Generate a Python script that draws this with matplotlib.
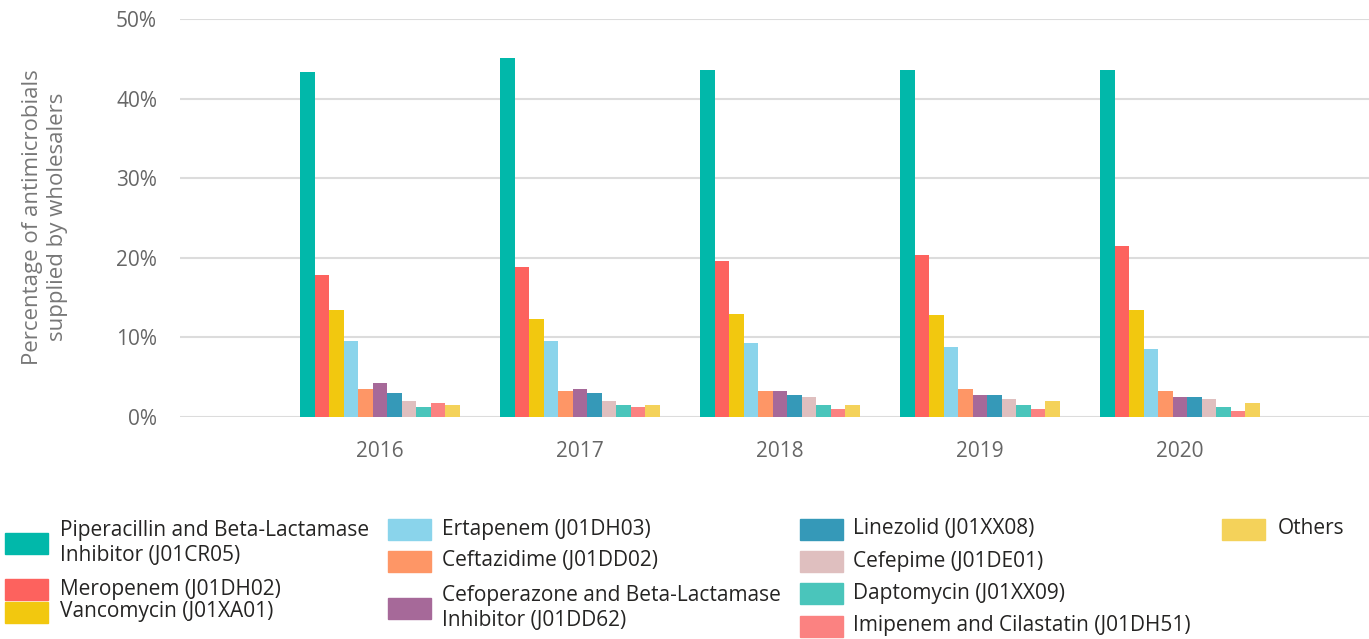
import numpy as np
import matplotlib.pyplot as plt
from matplotlib.patches import Rectangle
from matplotlib.ticker import FuncFormatter

plt.rcParams['font.family'] = ['Open Sans', 'DejaVu Sans']

years = ['2016', '2017', '2018', '2019', '2020']

drugs = [
    'Piperacillin and Beta-Lactamase\nInhibitor (J01CR05)',
    'Meropenem (J01DH02)',
    'Vancomycin (J01XA01)',
    'Ertapenem (J01DH03)',
    'Ceftazidime (J01DD02)',
    'Cefoperazone and Beta-Lactamase\nInhibitor (J01DD62)',
    'Linezolid (J01XX08)',
    'Cefepime (J01DE01)',
    'Daptomycin (J01XX09)',
    'Imipenem and Cilastatin (J01DH51)',
    'Others',
]

colors = ['#01B8AA', '#FD625E', '#F2C80F', '#8AD4EB', '#FE9666', '#A66999',
          '#3599B8', '#DFBFBF', '#4AC5BB', '#FB8281', '#F4D25A']

# percent per year, one list per drug
piperacillin = [43.4, 45.1, 43.6, 43.6, 43.6]
meropenem = [17.8, 18.8, 19.6, 20.3, 21.5]
vancomycin = [13.5, 12.3, 13.0, 12.8, 13.5]
ertapenem = [9.5, 9.5, 9.25, 8.75, 8.5]
ceftazidime = [3.5, 3.25, 3.25, 3.5, 3.25]
cefoperazone = [4.25, 3.5, 3.25, 2.75, 2.5]
linezolid = [3.0, 3.0, 2.75, 2.75, 2.5]
cefepime = [2.0, 2.0, 2.5, 2.25, 2.25]
daptomycin = [1.3, 1.5, 1.5, 1.5, 1.3]
imipenem = [1.75, 1.25, 1.0, 1.0, 0.75]
others = [1.5, 1.5, 1.5, 2.0, 1.75]

series = [piperacillin, meropenem, vancomycin, ertapenem, ceftazidime,
          cefoperazone, linezolid, cefepime, daptomycin, imipenem, others]

W, H = 1369, 639
fig = plt.figure(figsize=(W / 100, H / 100), dpi=100)
ax = fig.add_axes([180 / W, 1 - 417 / H, 1 - 180 / W, (417 - 19) / H])

x = np.arange(len(years))
n = len(series)
bw = 0.8 / n
for i, (vals, c) in enumerate(zip(series, colors)):
    ax.bar(x - 0.4 + bw * (i + 0.5), np.array(vals) / 100, width=bw,
           color=c, linewidth=0, zorder=3)

ax.set_ylim(0, 0.5)
ax.set_xlim(-1.0, 4.945)
ax.set_yticks(np.arange(0, 0.51, 0.1))
ax.yaxis.set_major_formatter(FuncFormatter(lambda v, p: f'{v * 100:.0f}%'))
ax.set_xticks(x)
ax.set_xticklabels(years)
ax.grid(axis='y', color='#dcdcdc', linewidth=1.5, zorder=0)
for s in ax.spines.values():
    s.set_visible(False)
ax.tick_params(axis='both', length=0, labelsize=15, labelcolor='#666666')
ax.tick_params(axis='y', pad=16.5)
ax.tick_params(axis='x', pad=17)

fig.text(45 / W, 1 - 217 / H,
         'Percentage of antimicrobials\nsupplied by wholesalers',
         rotation=90, ha='center', va='center', fontsize=16,
         color='#777777', linespacing=1.3)

# legend drawn by hand: (patch left, patch center y, text left)
leg_pos = [
    (5, 543, 60), (5, 589, 60), (5, 612, 60),
    (388, 529, 442), (388, 561, 442), (388, 608, 442),
    (800, 529, 853), (800, 561, 853), (800, 593, 853), (800, 626, 853),
    (1222, 529, 1278),
]
pw, ph = 43, 21
for (px, py, tx), lab, c in zip(leg_pos, drugs, colors):
    fig.patches.append(Rectangle((px / W, 1 - (py + ph / 2) / H), pw / W, ph / H,
                                 transform=fig.transFigure, color=c))
    fig.text(tx / W, 1 - py / H, lab, ha='left', va='center', fontsize=15,
             color='#252423', linespacing=1.25)

fig.savefig('out.png', dpi=100)
